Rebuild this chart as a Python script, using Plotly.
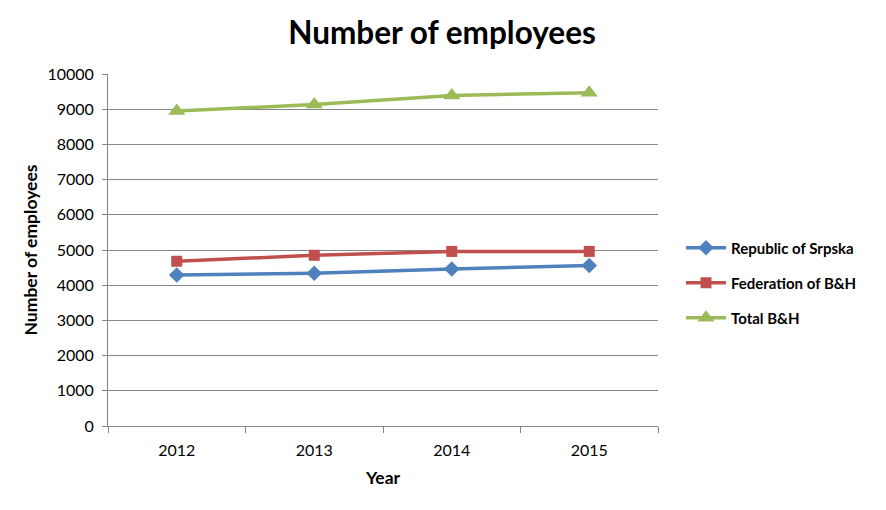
import plotly.graph_objects as go

years = ["2012", "2013", "2014", "2015"]
srpska = [4290, 4340, 4460, 4560]
federation = [4680, 4850, 4960, 4960]
total = [8950, 9130, 9390, 9470]

series = [
    ("Republic of Srpska", srpska, "#4F81BD", "diamond", 12, "legend"),
    ("Federation of B&H", federation, "#C0504D", "square", 11, "legend2"),
    ("Total B&H", total, "#9BBB59", "triangle-up", 15, "legend3"),
]

fig = go.Figure()
for name, vals, color, sym, size, leg in series:
    fig.add_trace(go.Scatter(
        x=years, y=vals, name=name, mode="lines+markers",
        line=dict(color=color, width=3.5),
        marker=dict(symbol=sym, size=size, color=color),
        legend=leg,
    ))

font = "Lato, 'Open Sans', sans-serif"
# page has an 8px body margin, so figure coords = page coords - 8
PL, PT, PW, PH = 100, 66, 550, 352


def leg(page_x, page_y):
    fx = (page_x - 8 - PL) / PW
    fy = 1 - (page_y - 8 - PT) / PH
    return dict(x=fx, xanchor="left", y=fy, yanchor="middle",
                font=dict(size=15, family=font, color="black", weight="bold"),
                itemwidth=40, bgcolor="rgba(0,0,0,0)")


fig.update_layout(
    width=886, height=510,
    margin=dict(l=PL, r=886 - PL - PW, t=PT, b=510 - PT - PH),
    paper_bgcolor="white", plot_bgcolor="white",
    font=dict(family=font, size=16, color="black"),
    title=dict(text="<b>Number of employees</b>", x=(442 - 8) / 886, xanchor="center",
               y=1 - 25 / 510, yanchor="middle", font=dict(size=31.5, family=font, color="black")),
    showlegend=True,
    legend=leg(681, 248),
    legend2=leg(681, 283),
    legend3=leg(681, 318),
    xaxis=dict(
        type="category", range=[-0.5, 3.5], showgrid=False, showline=True,
        linecolor="#868686", linewidth=1,
        ticks="outside", tickson="boundaries", ticklen=6, tickcolor="#868686",
        ticklabelstandoff=10,
        tickfont=dict(size=16, family=font),
        title=dict(text="<b>Year</b>", font=dict(size=17.5, family=font), standoff=13),
    ),
    yaxis=dict(
        range=[0, 10000], dtick=1000, tickformat="d", showgrid=True, gridcolor="#868686", gridwidth=1,
        showline=True, linecolor="#868686", linewidth=1, zeroline=False,
        ticks="outside", ticklen=5, tickcolor="#868686", ticklabelstandoff=5,
        tickfont=dict(size=16, family=font),
        title=dict(text="<b>Number of employees</b>", font=dict(size=17.5, family=font), standoff=5),
    ),
)

fig.write_html("out.html")
